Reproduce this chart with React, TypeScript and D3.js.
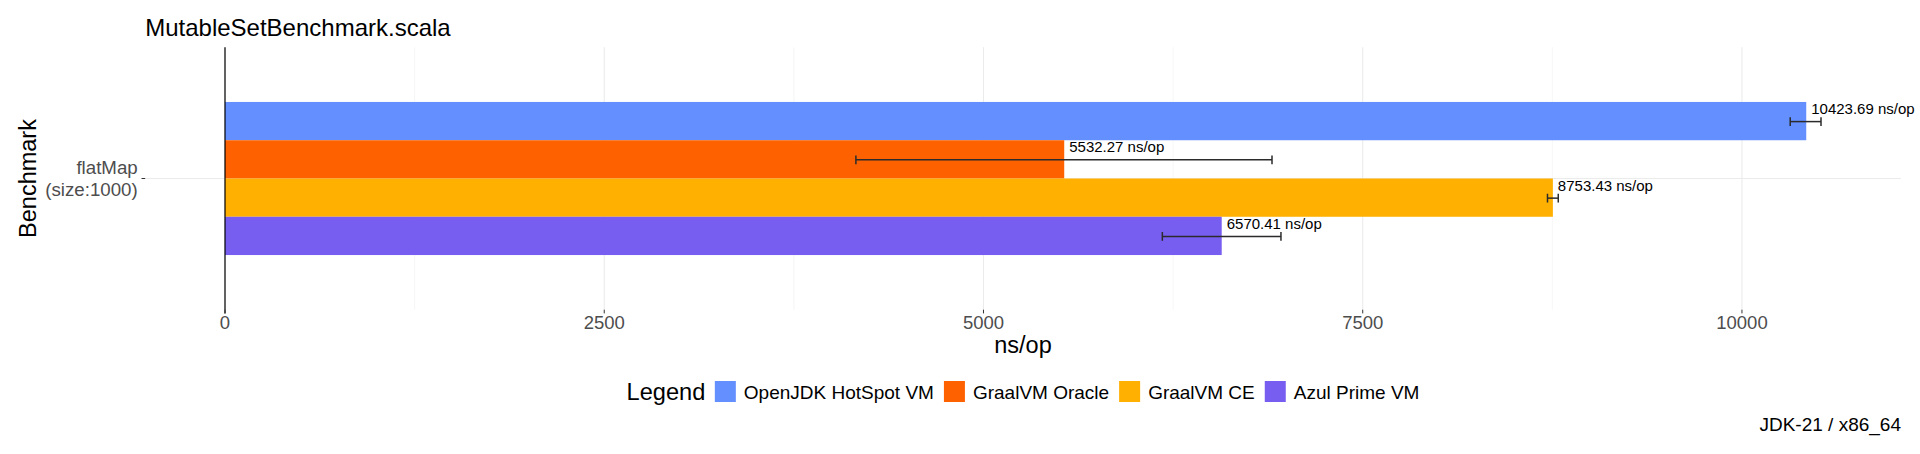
import React, { useEffect, useRef } from "react";
import * as d3 from "d3";

const categories = ["flatMap\n(size:1000)"];
const seriesNames = ["OpenJDK HotSpot VM", "GraalVM Oracle", "GraalVM CE", "Azul Prime VM"];
const seriesColors = ["#648FFF", "#FE6100", "#FFB000", "#785EF0"];
const values = [10423.69, 5532.27, 8753.43, 6570.41];
const errLow = [10318, 4159, 8718, 6179];
const errHigh = [10521, 6902, 8789, 6961];
const majorTicks = [0, 2500, 5000, 7500, 10000];
const minorTicks = [1250, 3750, 6250, 8750];
const titleText = "MutableSetBenchmark.scala";
const captionText = "JDK-21 / x86_64";

const FONT = "'Liberation Sans', Arial, sans-serif";

export default function App() {
  const ref = useRef<SVGSVGElement | null>(null);

  useEffect(() => {
    const svg = d3.select(ref.current);
    svg.selectAll("*").remove();

    const W = 1920, H = 454;
    const panel = { left: 145.2, right: 1900.8, top: 47.3, bottom: 309.7 };

    const hi = d3.max(errHigh) as number;
    const lo = Math.min(0, d3.min(errLow) as number);
    const span = hi - lo;
    const x = d3.scaleLinear().domain([lo - 0.05 * span, hi + 0.05 * span]).range([panel.left, panel.right]);

    const yCat = d3.scalePoint<string>().domain(categories).range([panel.top, panel.bottom]).padding(0.6);
    const step = (panel.bottom - panel.top) / (categories.length - 1 + 1.2);
    const groupW = 0.7 * step;

    svg.append("rect").attr("width", W).attr("height", H).attr("fill", "#ffffff");

    const g = svg.append("g");

    // minor grid
    g.selectAll("line.minor").data(minorTicks).join("line")
      .attr("x1", d => x(d)).attr("x2", d => x(d))
      .attr("y1", panel.top).attr("y2", panel.bottom)
      .attr("stroke", "#F0F0F0").attr("stroke-width", 0.6);
    // major grid
    g.selectAll("line.major").data(majorTicks).join("line")
      .attr("x1", d => x(d)).attr("x2", d => x(d))
      .attr("y1", panel.top).attr("y2", panel.bottom)
      .attr("stroke", "#EBEBEB").attr("stroke-width", 1.1);
    g.selectAll("line.hgrid").data(categories).join("line")
      .attr("x1", panel.left).attr("x2", panel.right)
      .attr("y1", d => yCat(d) as number).attr("y2", d => yCat(d) as number)
      .attr("stroke", "#EBEBEB").attr("stroke-width", 1.1);

    categories.forEach(cat => {
      const cy = yCat(cat) as number;
      const inner = d3.scaleBand<string>().domain(seriesNames).range([cy - groupW / 2, cy + groupW / 2]);
      const bh = inner.bandwidth();
      seriesNames.forEach((s, i) => {
        const y0 = inner(s) as number;
        g.append("rect")
          .attr("x", x(0)).attr("y", y0)
          .attr("width", x(values[i]) - x(0)).attr("height", bh)
          .attr("fill", seriesColors[i]);
      });
      // error bars
      seriesNames.forEach((s, i) => {
        const yc = (inner(s) as number) + bh / 2 + 0.5;
        const eb = g.append("g").attr("stroke", "#2b2b2b").attr("stroke-width", 1.5).attr("fill", "none");
        eb.append("line").attr("x1", x(errLow[i])).attr("x2", x(errHigh[i])).attr("y1", yc).attr("y2", yc);
        eb.append("line").attr("x1", x(errLow[i])).attr("x2", x(errLow[i])).attr("y1", yc - 4.4).attr("y2", yc + 4.4);
        eb.append("line").attr("x1", x(errHigh[i])).attr("x2", x(errHigh[i])).attr("y1", yc - 4.4).attr("y2", yc + 4.4);
      });
      // labels
      seriesNames.forEach((s, i) => {
        const y0 = inner(s) as number;
        g.append("text")
          .attr("x", x(values[i]) + 5).attr("y", y0 + 12)
          .attr("font-family", FONT).attr("font-size", 15).attr("fill", "#000")
          .text(`${values[i].toFixed(2)} ns/op`);
      });
    });

    // zero line
    g.append("line").attr("x1", x(0)).attr("x2", x(0))
      .attr("y1", panel.top).attr("y2", panel.bottom + 3.7)
      .attr("stroke", "#000").attr("stroke-width", 1.2);

    // x ticks
    g.selectAll("line.xtick").data(majorTicks).join("line")
      .attr("x1", d => x(d)).attr("x2", d => x(d))
      .attr("y1", panel.bottom).attr("y2", panel.bottom + 3.7)
      .attr("stroke", "#333333").attr("stroke-width", 1);
    g.selectAll("text.xtick").data(majorTicks).join("text")
      .attr("x", d => x(d)).attr("y", 329)
      .attr("text-anchor", "middle").attr("font-family", FONT).attr("font-size", 18.5)
      .attr("fill", "#4D4D4D").text(d => String(d));

    // y ticks
    categories.forEach(cat => {
      const cy = yCat(cat) as number;
      g.append("line").attr("x1", panel.left - 3.7).attr("x2", panel.left)
        .attr("y1", cy).attr("y2", cy).attr("stroke", "#333333").attr("stroke-width", 1);
      const lines = cat.split("\n");
      const lh = 22.7;
      const first = cy + 6.7 - (lines.length * lh - lh) / 2 - 0.1;
      lines.forEach((ln, j) => {
        g.append("text").attr("x", panel.left - 7.5).attr("y", first + j * lh)
          .attr("text-anchor", "end").attr("font-family", FONT).attr("font-size", 18.7)
          .attr("fill", "#4D4D4D").text(ln);
      });
    });

    // title
    svg.append("text").attr("x", panel.left).attr("y", 36)
      .attr("font-family", FONT).attr("font-size", 24).attr("fill", "#000").text(titleText);

    // axis titles
    const pcx = (panel.left + panel.right) / 2;
    svg.append("text").attr("x", pcx).attr("y", 353)
      .attr("text-anchor", "middle").attr("font-family", FONT).attr("font-size", 23.5)
      .attr("fill", "#000").text("ns/op");
    svg.append("text")
      .attr("transform", `translate(36,${(panel.top + panel.bottom) / 2}) rotate(-90)`)
      .attr("text-anchor", "middle").attr("font-family", FONT).attr("font-size", 23.5)
      .attr("fill", "#000").text("Benchmark");

    // legend
    const lg = svg.append("g");
    const lt = lg.append("text").attr("x", 0).attr("y", 400)
      .attr("font-family", FONT).attr("font-size", 23.6).attr("fill", "#000").text("Legend");
    let cx = (lt.node() as SVGTextElement).getComputedTextLength() + 9.5;
    seriesNames.forEach((s, i) => {
      lg.append("rect").attr("x", cx).attr("y", 381).attr("width", 21).attr("height", 21)
        .attr("fill", seriesColors[i]);
      const t = lg.append("text").attr("x", cx + 21 + 8).attr("y", 398.5)
        .attr("font-family", FONT).attr("font-size", 19).attr("fill", "#000").text(s);
      cx = cx + 29 + (t.node() as SVGTextElement).getComputedTextLength() + 10;
    });
    const total = cx - 10;
    lg.attr("transform", `translate(${pcx - total / 2},0)`);

    // caption
    svg.append("text").attr("x", 1901).attr("y", 431)
      .attr("text-anchor", "end").attr("font-family", FONT).attr("font-size", 19)
      .attr("fill", "#000").text(captionText);
  }, []);

  return (
    <div style={{ position: "absolute", left: 0, top: 0 }}>
      <svg ref={ref} width={1920} height={454} style={{ display: "block" }} />
    </div>
  );
}
